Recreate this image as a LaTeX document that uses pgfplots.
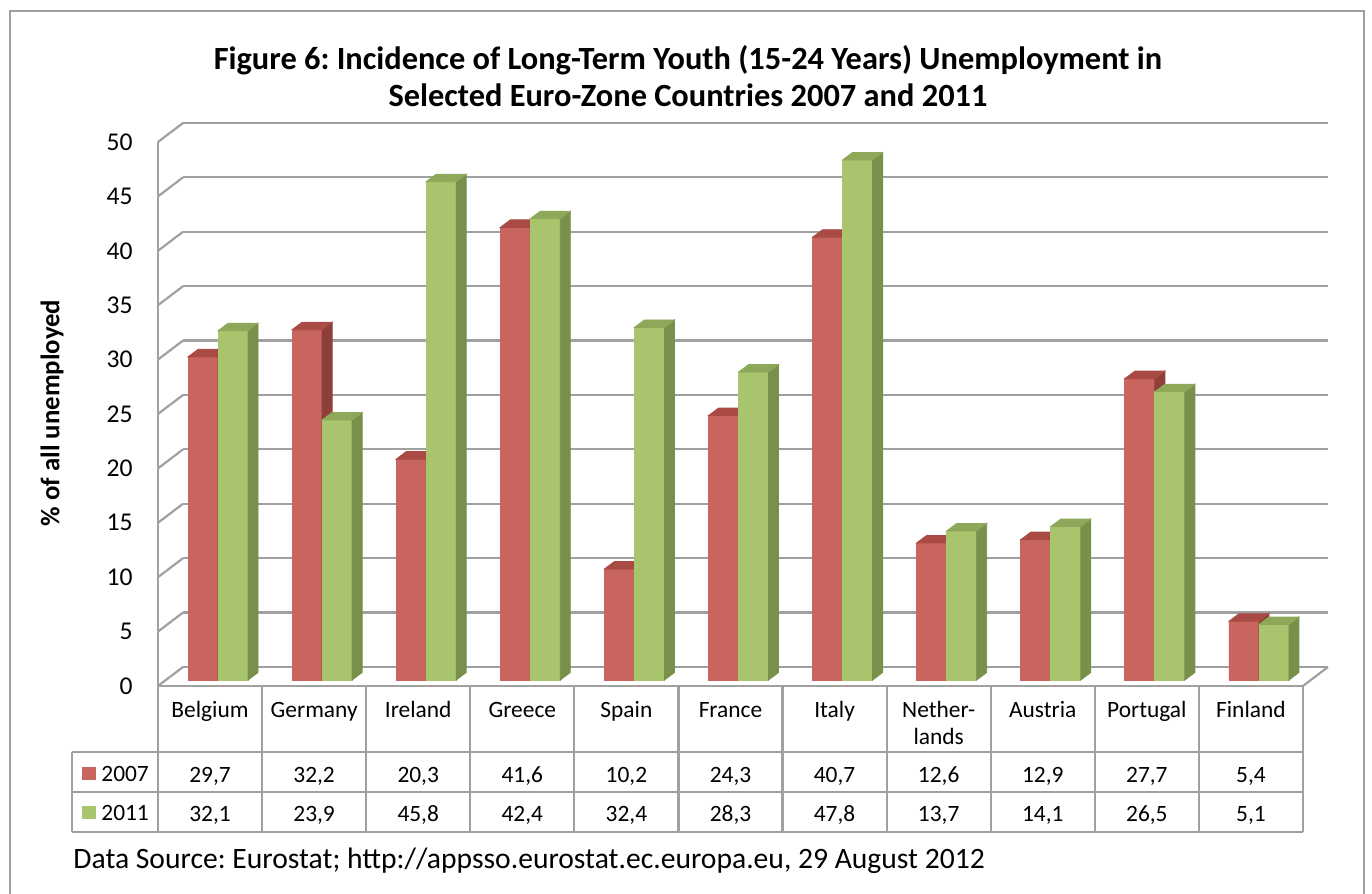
\documentclass[border=0pt]{standalone}
\usepackage{pgfplots}
\pgfplotsset{compat=1.18}
\usepackage{pgfplotstable}
\usepackage{fontspec}
\setmainfont{Carlito}
\frenchspacing
\definecolor{redF}{HTML}{C8655E}
\definecolor{redS}{HTML}{8E3F39}
\definecolor{redT}{HTML}{A94A44}
\definecolor{grnF}{HTML}{A8C46D}
\definecolor{grnS}{HTML}{77904A}
\definecolor{grnT}{HTML}{8DA858}
\definecolor{gridc}{HTML}{A0A0A0}
\pgfdeclareplotmark{emptymark}{}
\pgfplotstableread{
x a b
0 29.7 32.1
1 32.2 23.9
2 20.3 45.8
3 41.6 42.4
4 10.2 32.4
5 24.3 28.3
6 40.7 47.8
7 12.6 13.7
8 12.9 14.1
9 27.7 26.5
10 5.4 5.1
}\data
\pgfplotsset{
  bar3d/.style n args={4}{%
    only marks, mark=emptymark, scatter,
    visualization depends on={rawy \as \ry},
    scatter/@pre marker code/.code={%
      \pgfkeys{/pgf/fpu=false}%
      \pgfmathsetmacro\hh{\ry*5.44}%
      \fill[#4] (#1bp-15bp,0bp) rectangle (#1bp,-\hh bp);
      \fill[#2] (#1bp,0bp) -- ++(5bp,3.75bp) -- ++(0bp,-\hh bp) -- ++(-5bp,-3.75bp) -- cycle;
      \fill[#3] (#1bp-15bp,0bp) -- (#1bp,0bp) -- ++(5bp,3.75bp) -- ++(-15bp,0bp) -- cycle;
      \scope
    },
    scatter/@post marker code/.code={\endscope},
  }
}
\newcommand\tabfont{\fontsize{11.7bp}{14bp}\selectfont}
\begin{document}
\begin{tikzpicture}
\useasboundingbox (0,0) rectangle (686bp,447bp);
% back wall grid
\begin{axis}[at={(91.5bp,113.5bp)}, anchor=south west, scale only axis,
  width=572.5bp, height=272bp, xmin=-0.5, xmax=10.5, ymin=0, ymax=50,
  axis line style={draw=none}, xtick=\empty, ytick={0,5,...,50}, yticklabels={},
  ymajorgrids, grid style={gridc, line width=1.1bp}, major tick length=0pt]
\end{axis}
\begin{scope}[x=0.5bp, y=-0.5bp, shift={(0bp,447bp)}]
  \draw[gridc, line width=1.25bp] (10,11) rectangle (1364,930);
  \foreach \v in {0,5,...,50} {
    \draw[gridc, line width=1.1bp] (158,{686-\v*10.88}) -- (183,{667-\v*10.88});
  }
  \draw[gridc, line width=1.1bp] (1303,686) -- (1328,667);
  \node[anchor=base, font=\bfseries\fontsize{16.2bp}{19bp}\selectfont] at (688,70) {Figure 6: Incidence of Long-Term Youth (15-24 Years) Unemployment in};
  \node[anchor=base, font=\bfseries\fontsize{16.2bp}{19bp}\selectfont] at (688,107) {Selected Euro-Zone Countries 2007 and 2011};
  \node[rotate=90, font=\bfseries\fontsize{13.4bp}{16bp}\selectfont] at (52,413) {\% of all unemployed};
\end{scope}
% front plane: y axis line and tick labels
\begin{axis}[at={(79bp,104bp)}, anchor=south west, scale only axis,
  width=572.5bp, height=272bp, xmin=-0.5, xmax=10.5, ymin=0, ymax=50,
  axis x line=none, axis y line*=left, y axis line style={gridc, line width=1.1bp},
  ytick={0,5,...,50}, major tick length=0pt,
  yticklabel style={font=\fontsize{12.8bp}{15bp}\selectfont, inner sep=0pt, anchor=east, xshift=-12.5bp},
  /pgf/number format/assume math mode=true]
\end{axis}
% bars
\begin{axis}[at={(83bp,107bp)}, anchor=south west, scale only axis,
  width=572.5bp, height=272bp, xmin=-0.5, xmax=10.5, ymin=0, ymax=50,
  hide axis, clip=false]
\addplot[ybar, bar width=15bp, bar shift=-7.5bp, fill=redF, draw=none] table[x=x,y=a]{\data};
\addplot[ybar, bar width=15bp, bar shift=7.5bp, fill=grnF, draw=none] table[x=x,y=b]{\data};
\addplot[bar3d={0}{redS}{redT}{redF}] table[x=x,y=a]{\data};
\addplot[bar3d={15}{grnS}{grnT}{grnF}] table[x=x,y=b]{\data};
\end{axis}
% data table
\begin{scope}[x=0.5bp, y=-0.5bp, shift={(0bp,447bp)}]
  \draw[gridc, line width=1.1bp] (158,686) -- (1303,686);
  \draw[gridc, line width=1.1bp] (72,752) -- (1303,752);
  \draw[gridc, line width=1.1bp] (72,792) -- (1303,792);
  \draw[gridc, line width=1.1bp] (72,832) -- (1303,832);
  \draw[gridc, line width=1.1bp] (72,752) -- (72,832);
  \foreach \k in {0,...,11} {
    \pgfmathsetmacro\vx{158+104.0909*\k}
    \draw[gridc, line width=1.1bp] (\vx,686) -- (\vx,832);
  }
  \foreach \n [count=\k from 0] in {Belgium,Germany,Ireland,Greece,Spain,France,Italy,Nether-,Austria,Portugal,Finland} {
    \pgfmathsetmacro\cx{210.045+104.0909*\k}
    \node[anchor=base, inner sep=0pt, font=\tabfont] at (\cx,718) {\n};
  }
  \node[anchor=base, inner sep=0pt, font=\tabfont] at ({210.045+104.0909*7},744.5) {lands};
  \foreach \k in {0,...,10} {
    \pgfmathsetmacro\cx{210.045+104.0909*\k}
    \pgfplotstablegetelem{\k}{a}\of\data
    \node[anchor=base, inner sep=0pt, font=\tabfont] at (\cx,783) {\pgfmathprintnumber[fixed,fixed zerofill,precision=1,use comma,assume math mode=true]{\pgfplotsretval}};
    \pgfplotstablegetelem{\k}{b}\of\data
    \node[anchor=base, inner sep=0pt, font=\tabfont] at (\cx,822) {\pgfmathprintnumber[fixed,fixed zerofill,precision=1,use comma,assume math mode=true]{\pgfplotsretval}};
  }
  \fill[redF] (82,767) rectangle (96,780);
  \fill[grnF] (82,806) rectangle (96,819);
  \node[anchor=base west, inner sep=0pt, font=\tabfont] at (101,782) {2007};
  \node[anchor=base west, inner sep=0pt, font=\tabfont] at (101,821) {2011};
  \node[anchor=base west, inner sep=0pt, font=\fontsize{14.8bp}{17.5bp}\selectfont] at (73,869) {Data Source: Eurostat; http://appsso.eurostat.ec.europa.eu, 29 August 2012};
\end{scope}
\end{tikzpicture}
\end{document}
